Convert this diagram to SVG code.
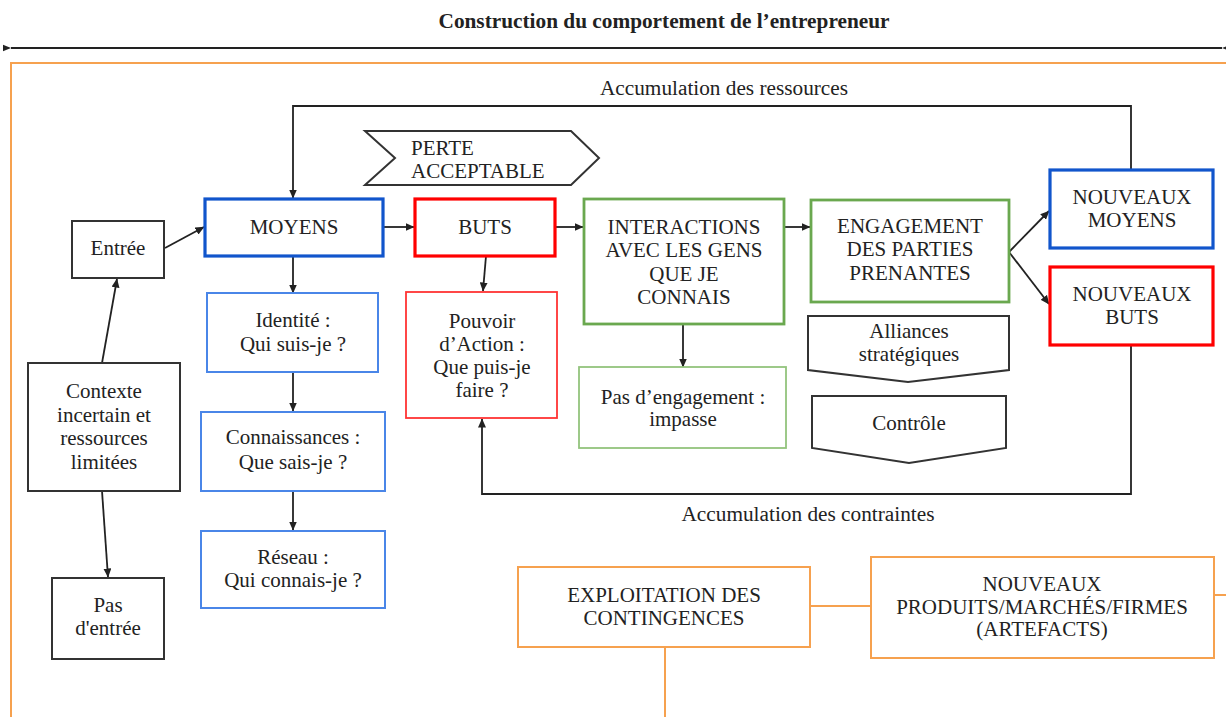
<svg xmlns="http://www.w3.org/2000/svg" width="1226" height="717" viewBox="0 0 1226 717">
<defs>
<marker id="ah" markerWidth="9" markerHeight="8" refX="8.5" refY="4" orient="auto" markerUnits="userSpaceOnUse"><path d="M0,0 L9,4 L0,8 Z" fill="#222"/></marker>
<marker id="ahs" markerWidth="12" markerHeight="8" refX="0" refY="4" orient="auto-start-reverse" markerUnits="userSpaceOnUse"><path d="M0,4 L8,0.8 L8,7.2 Z" fill="#222"/></marker>
<style>
text{font-family:"Liberation Serif","Times New Roman",serif;font-size:21px;fill:#222;text-anchor:middle}
.title{font-weight:bold;font-size:20px}
.lab{font-size:20px}
.l{text-anchor:start}
.blk{fill:#fff;stroke:#333;stroke-width:2}
.bT{fill:#fff;stroke:#1155cc;stroke-width:3.2}
.rT{fill:#fff;stroke:#ff0000;stroke-width:3.2}
.gT{fill:#fff;stroke:#6aa84f;stroke-width:2.8}
.bt{fill:#fff;stroke:#4a86e8;stroke-width:2}
.rt{fill:#fff;stroke:#ff3333;stroke-width:1.8}
.gt{fill:#fff;stroke:#93c47d;stroke-width:1.8}
.o{fill:#fff;stroke:#f6a14f;stroke-width:2}
.c{fill:none;stroke:#222;stroke-width:1.8}
.oc{fill:none;stroke:#f6a14f;stroke-width:2}
</style>
</defs>
<rect width="1226" height="717" fill="#fff"/>
<text class="title" x="664" y="28" textLength="451" lengthAdjust="spacingAndGlyphs">Construction du comportement de l’entrepreneur</text>
<line x1="11" y1="48" x2="1222" y2="48" stroke="#222" stroke-width="2" marker-start="url(#ahs)" marker-end="url(#ahs)"/>
<path class="oc" d="M11,717 V63 H1226"/>
<text class="lab" x="724" y="95" textLength="248" lengthAdjust="spacingAndGlyphs">Accumulation des ressources</text>
<text class="lab" x="808" y="521" textLength="253" lengthAdjust="spacingAndGlyphs">Accumulation des contraintes</text>

<g id="connectors">
<path class="c" d="M1131,170 V106 H293 V198" marker-end="url(#ah)"/>
<path class="c" d="M1131,345 V494 H482 V419" marker-end="url(#ah)"/>
<line class="c" x1="165" y1="248" x2="204" y2="227" marker-end="url(#ah)"/>
<line class="c" x1="102" y1="363" x2="117" y2="279" marker-end="url(#ah)"/>
<line class="c" x1="102" y1="491" x2="108" y2="577" marker-end="url(#ah)"/>
<line class="c" x1="383" y1="227" x2="414" y2="227" marker-end="url(#ah)"/>
<line class="c" x1="555" y1="227" x2="583" y2="227" marker-end="url(#ah)"/>
<line class="c" x1="784" y1="227" x2="810" y2="227" marker-end="url(#ah)"/>
<line class="c" x1="1009" y1="252" x2="1049" y2="211" marker-end="url(#ah)"/>
<line class="c" x1="1009" y1="252" x2="1049" y2="304" marker-end="url(#ah)"/>
<line class="c" x1="293" y1="256" x2="293" y2="293" marker-end="url(#ah)"/>
<line class="c" x1="293" y1="372" x2="293" y2="411" marker-end="url(#ah)"/>
<line class="c" x1="293" y1="491" x2="293" y2="530" marker-end="url(#ah)"/>
<line class="c" x1="486" y1="256" x2="483" y2="291" marker-end="url(#ah)"/>
<line class="c" x1="683" y1="325" x2="683" y2="367" marker-end="url(#ah)"/>
<line class="oc" x1="810" y1="606" x2="871" y2="606"/>
<line class="oc" x1="1214" y1="595" x2="1226" y2="595"/>
<line class="oc" x1="665" y1="647" x2="665" y2="717"/>
</g>

<g id="perte"><polygon class="blk" points="365,131 571,131 599,158 571,185 365,185 395,158"/>
<text class="l" x="411" y="155">PERTE</text><text class="l" x="411" y="178">ACCEPTABLE</text></g>
<g id="entree"><rect class="blk" x="72" y="221" width="92" height="57"/><text x="118" y="255">Entrée</text></g>
<g id="moyens"><rect class="bT" x="205" y="199" width="178" height="57"/><text x="294" y="234">MOYENS</text></g>
<g id="buts"><rect class="rT" x="415" y="199" width="140" height="57"/><text x="485" y="234">BUTS</text></g>
<g id="interactions"><rect class="gT" x="584" y="199" width="200" height="125"/>
<text x="684" y="234">INTERACTIONS</text><text x="684" y="257">AVEC LES GENS</text><text x="684" y="281">QUE JE</text><text x="684" y="304">CONNAIS</text></g>
<g id="engagement"><rect class="gT" x="811" y="200" width="198" height="102"/>
<text x="910" y="233">ENGAGEMENT</text><text x="910" y="256">DES PARTIES</text><text x="910" y="280">PRENANTES</text></g>
<g id="nouveaux-moyens"><rect class="bT" x="1050" y="170" width="163" height="78"/>
<text x="1132" y="204">NOUVEAUX</text><text x="1132" y="227">MOYENS</text></g>
<g id="nouveaux-buts"><rect class="rT" x="1050" y="267" width="163" height="78"/>
<text x="1132" y="301">NOUVEAUX</text><text x="1132" y="324">BUTS</text></g>
<g id="identite"><rect class="bt" x="207" y="293" width="171" height="79"/>
<text x="293" y="327">Identité :</text><text x="293" y="351">Qui suis-je ?</text></g>
<g id="connaissances"><rect class="bt" x="201" y="412" width="184" height="79"/>
<text x="293" y="444">Connaissances :</text><text x="293" y="469">Que sais-je ?</text></g>
<g id="reseau"><rect class="bt" x="201" y="531" width="184" height="77"/>
<text x="293" y="564">Réseau :</text><text x="293" y="587">Qui connais-je ?</text></g>
<g id="contexte"><rect class="blk" x="28" y="363" width="152" height="128"/>
<text x="104" y="398">Contexte</text><text x="104" y="422">incertain et</text><text x="104" y="445">ressources</text><text x="104" y="469">limitées</text></g>
<g id="pas-entree"><rect class="blk" x="52" y="578" width="112" height="81"/>
<text x="108" y="612">Pas</text><text x="108" y="635">d'entrée</text></g>
<g id="pouvoir"><rect class="rt" x="406" y="292" width="151" height="126"/>
<text x="482" y="328">Pouvoir</text><text x="482" y="351">d’Action :</text><text x="482" y="374">Que puis-je</text><text x="482" y="397">faire ?</text></g>
<g id="pas-engagement"><rect class="gt" x="579" y="367" width="207" height="81"/>
<text x="683" y="404">Pas d’engagement :</text><text x="683" y="426">impasse</text></g>
<g id="alliances"><polygon class="blk" points="808,316 1009,316 1009,370 908,382 808,370"/>
<text x="909" y="338">Alliances</text><text x="909" y="361">stratégiques</text></g>
<g id="controle"><polygon class="blk" points="812,396 1006,396 1006,448 909,463 812,448"/>
<text x="909" y="430">Contrôle</text></g>
<g id="exploitation"><rect class="o" x="518" y="567" width="292" height="80"/>
<text x="664" y="602">EXPLOITATION DES</text><text x="664" y="625">CONTINGENCES</text></g>
<g id="nouveaux-produits"><rect class="o" x="871" y="557" width="343" height="101"/>
<text x="1042" y="591">NOUVEAUX</text><text x="1042" y="614">PRODUITS/MARCHÉS/FIRMES</text><text x="1042" y="636">(ARTEFACTS)</text></g>
</svg>
